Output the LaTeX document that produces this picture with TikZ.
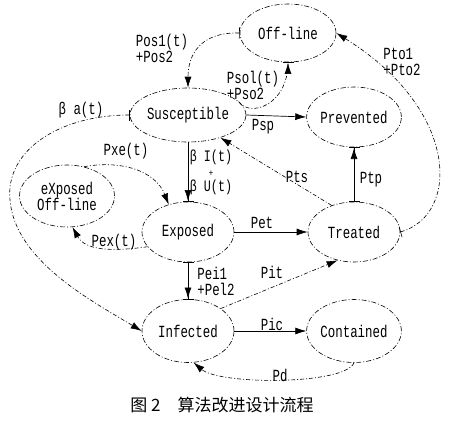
\documentclass[tikz,border=0pt]{standalone}
\usepackage{fontspec}
\setmainfont{Liberation Serif}
\setmonofont{Liberation Mono}
\newfontfamily\cjk{Noto Sans CJK SC}
\usetikzlibrary{shapes.geometric,arrows.meta}

\newcommand{\nar}[1]{\scalebox{0.73}[1]{#1}}

\tikzset{
  state/.style={ellipse, draw, line width=0.6pt,
    dash pattern=on 5pt off 2pt on 1pt off 2pt,
    minimum width=92pt, minimum height=60pt, inner sep=0pt,
    font=\ttfamily\fontsize{17}{16}\selectfont, align=center},
  lbl/.style={inner sep=0pt, font=\ttfamily\fontsize{17}{16}\selectfont},
  solidarr/.style={line width=0.7pt},
  dasharr/.style={line width=0.6pt, dash pattern=on 4pt off 2pt on 1pt off 2pt},
  tohead/.style={arrows={-{Latex[length=11pt,width=7pt]}}},
  tobar/.style={arrows={-{Latex[length=11pt,width=7pt] Bar[width=11pt]}}},
  barto/.style={arrows={{Bar[width=11pt]}-{Latex[length=11pt,width=7pt]}}},
  bartobar/.style={arrows={{Bar[width=11pt]}-{Latex[length=11pt,width=7pt] Bar[width=11pt]}}},
}

\begin{document}
\begin{tikzpicture}[x=1pt,y=-1pt]
  \useasboundingbox (0,0) rectangle (456,421);

  % states
  \node[state, minimum width=96pt, minimum height=58pt] (off) at (288,33) {\nar{Off-line}};
  \node[state, minimum height=54pt] (sus) at (188,115) {\nar{Susceptible}};
  \node[state] (prev) at (354,117) {\nar{Prevented}};
  \node[state, minimum width=95pt, minimum height=62pt] (xoff) at (67,196) {\nar{eXposed}\\\nar{Off-line}};
  \node[state] (exp) at (188,232) {\nar{Exposed}};
  \node[state] (treat) at (354,232) {\nar{Treated}};
  \node[state, minimum height=63pt] (inf) at (188,331) {\nar{Infected}};
  \node[state, minimum height=63pt] (cont) at (354,331) {\nar{Contained}};

  % transitions
  \draw[dasharr, barto] (off.west) .. controls (200,32) and (188,55) .. (sus.north);
  \node[lbl, align=left] (lpos) at (162,48) {\nar{Pos1(t)}\\\nar{+Pos2}};

  \draw[dasharr, tobar] (sus.15) .. controls (250,118) and (288,105) .. (off.south);
  \node[lbl, align=left] (lpso) at (253,85) {\nar{Psol(t)}\\\nar{+Pso2}};

  \draw[solidarr, tohead] (sus.east) -- (prev.west);
  \node[lbl] (lpsp) at (263,127) {\nar{Psp}};

  \draw[solidarr, tobar] (sus.south) -- (exp.north);
  \node[lbl, align=center, font=\ttfamily\fontsize{16}{15}\selectfont] (lbi) at (211,172)
    {\nar{β I(t)}\\\nar{\fontsize{10}{10}\selectfont +}\\\nar{β U(t)}};

  \draw[dasharr, barto] (sus.west) .. controls (60,115) and (5,150) .. (10,200)
    .. controls (15,260) and (90,300) .. (inf.west);
  \node[lbl] (lba) at (81,110) {\nar{β a(t)}};

  \draw[dasharr, tohead] (xoff.60) .. controls (120,160) and (155,170) .. (exp.125);
  \node[lbl] (lpxe) at (126,151) {\nar{Pxe(t)}};

  \draw[dasharr, tohead] (exp.200) .. controls (110,252) and (85,250) .. (xoff.-80);
  \node[lbl] (lpex) at (114,242) {\nar{Pex(t)}};

  \draw[solidarr, tohead] (exp.east) -- (treat.west);
  \node[lbl] (lpet) at (262,223) {\nar{Pet}};

  \draw[solidarr, bartobar] (exp.south) -- (inf.north);
  \node[lbl, align=left] (lpei) at (216,281) {\nar{Pei1}\\\nar{+Pel2}};

  \draw[dasharr, tohead] (inf.north east) -- (treat.240);
  \node[lbl] (lpit) at (272,272) {\nar{Pit}};

  \draw[solidarr, tohead] (inf.east) -- (cont.west);
  \node[lbl] (lpic) at (272,324) {\nar{Pic}};

  \draw[dasharr, tohead] (cont.south) .. controls (345,385) and (220,385) .. (inf.-80);
  \node[lbl] (lpd) at (280,375) {\nar{Pd}};

  \draw[solidarr, bartobar] (treat.north) -- (prev.south);
  \node[lbl] (lptp) at (371,180) {\nar{Ptp}};

  \draw[dasharr, tohead] (treat.130) -- (sus.-35);
  \node[lbl] (lpts) at (297,177) {\nar{Pts}};

  \draw[dasharr, barto] (treat.east) .. controls (460,215) and (460,110) .. (off.east);
  \node[lbl, align=left] (lpto) at (402,62) {\nar{Pto1}\\\nar{+Pto2}};

  % caption
  \node[font=\cjk\fontsize{17}{17}\selectfont] (cap) at (222,405) {图 2\quad 算法改进设计流程};
\end{tikzpicture}
\end{document}
